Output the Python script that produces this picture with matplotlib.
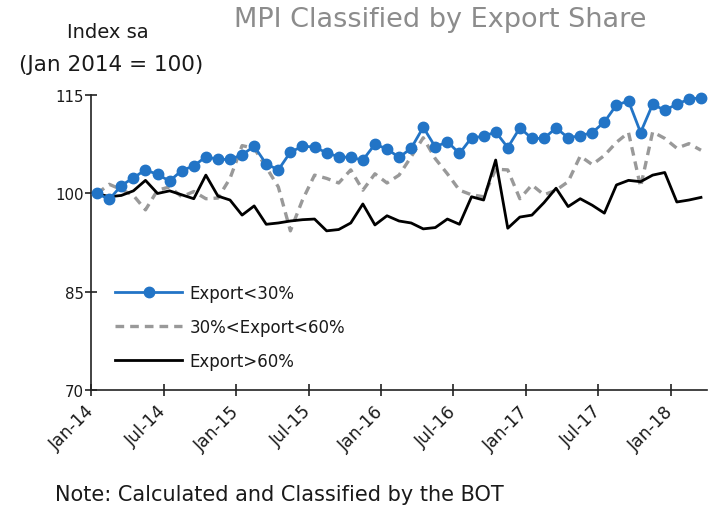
import matplotlib
matplotlib.use("Agg")
import matplotlib.pyplot as plt
import numpy as np

# Monthly MPI by export share, Jan-2014 .. Mar-2018 (Jan 2014 = 100)
months = [f"{m}-{y}" for y in range(14, 19) for m in
          ["Jan", "Feb", "Mar", "Apr", "May", "Jun", "Jul", "Aug", "Sep", "Oct", "Nov", "Dec"]][:51]

export_lt30 = [100.0, 99.1, 101.2, 102.4, 103.6, 102.9, 101.9, 103.5, 104.2, 105.6,
               105.2, 105.2, 105.9, 107.2, 104.5, 103.6, 106.3, 107.2, 107.1, 106.2,
               105.6, 105.5, 105.1, 107.5, 106.8, 105.5, 106.9, 110.1, 107.1, 107.9,
               106.1, 108.5, 108.7, 109.4, 107.0, 110.0, 108.4, 108.4, 110.0, 108.5,
               108.8, 109.3, 110.9, 113.5, 114.1, 109.3, 113.6, 112.7, 113.6, 114.4,
               114.6]

export_30_60 = [100.0, 101.4, 100.6, 99.7, 97.5, 100.5, 101.0, 99.5, 100.3, 99.2,
                99.3, 102.3, 107.3, 106.9, 104.0, 101.0, 94.3, 99.0, 102.8, 102.3,
                101.6, 103.6, 100.5, 103.0, 101.6, 102.8, 105.6, 108.5, 105.3, 103.0,
                100.5, 99.8, 99.5, 103.7, 103.6, 99.2, 101.3, 99.8, 100.5, 101.8,
                105.7, 104.4, 105.8, 107.8, 109.3, 101.0, 109.4, 108.4, 106.9, 107.6,
                106.6]

export_gt60 = [100.0, 99.5, 99.7, 100.4, 102.0, 100.0, 100.4, 99.8, 99.2, 102.8,
               99.6, 99.0, 96.7, 98.1, 95.3, 95.5, 95.8, 96.0, 96.1, 94.3,
               94.5, 95.5, 98.4, 95.2, 96.6, 95.8, 95.5, 94.6, 94.8, 96.1,
               95.3, 99.5, 99.0, 105.1, 94.7, 96.4, 96.7, 98.6, 100.8, 98.0,
               99.2, 98.2, 97.0, 101.3, 102.0, 101.8, 102.8, 103.2, 98.7, 99.0,
               99.4]

tick_labels = ["Jan-14", "Jul-14", "Jan-15", "Jul-15", "Jan-16",
               "Jul-16", "Jan-17", "Jul-17", "Jan-18"]
y_ticks = [70, 85, 100, 115]

plt.rcParams["font.family"] = ["DejaVu Sans"]
txt = "#1a1a1a"

fig = plt.figure(figsize=(7.12, 5.06), dpi=100)
ax = fig.add_axes([0.128, 0.227, 0.865, 0.583])

x = np.arange(len(export_lt30))
ax.plot(x, export_30_60, color="#999999", linewidth=2.4, linestyle=(0, (2.6, 1.8)),
        label="30%<Export<60%", zorder=2)
ax.plot(x, export_gt60, color="black", linewidth=2.0, label="Export>60%", zorder=3)
ax.plot(x, export_lt30, color="#2274c6", linewidth=2.0, marker="o", markersize=7.5,
        label="Export<30%", zorder=4, clip_on=False)

ax.set_xlim(-0.5, len(x) - 0.5)
ax.set_ylim(70, 115)
ax.set_yticks(y_ticks)
ax.set_xticks(np.arange(len(tick_labels)) * 6 - 0.5)
ax.set_xticklabels(tick_labels, rotation=45, ha="right", va="center",
                   rotation_mode="anchor")

for s in ["top", "right"]:
    ax.spines[s].set_visible(False)
for s in ["left", "bottom"]:
    ax.spines[s].set_linewidth(1.2)
    ax.spines[s].set_color("#222222")
ax.tick_params(axis="both", direction="inout", length=8, width=1.2, colors="#222222",
               labelcolor=txt)
ax.tick_params(axis="x", pad=9, labelsize=12.5)
ax.tick_params(axis="y", pad=1, labelsize=10.8)

handles, labels = ax.get_legend_handles_labels()
order = [2, 0, 1]
ax.legend([handles[i] for i in order], [labels[i] for i in order],
          loc="upper left", bbox_to_anchor=(0.015, 0.41), frameon=False,
          fontsize=12, handlelength=4.0, labelspacing=0.95, handletextpad=0.45,
          labelcolor=txt)

fig.text(0.618, 0.96, "MPI Classified by Export Share", fontsize=19.5, color="#8c8c8c",
         ha="center", va="center")
fig.text(0.152, 0.935, "Index sa", fontsize=14, color=txt, ha="center", va="center")
fig.text(0.156, 0.872, "(Jan 2014 = 100)", fontsize=15.5, color=txt, ha="center", va="center")
fig.text(0.077, 0.022, "Note: Calculated and Classified by the BOT", fontsize=15,
         color=txt, ha="left", va="center")

fig.savefig("out.png", dpi=100)
